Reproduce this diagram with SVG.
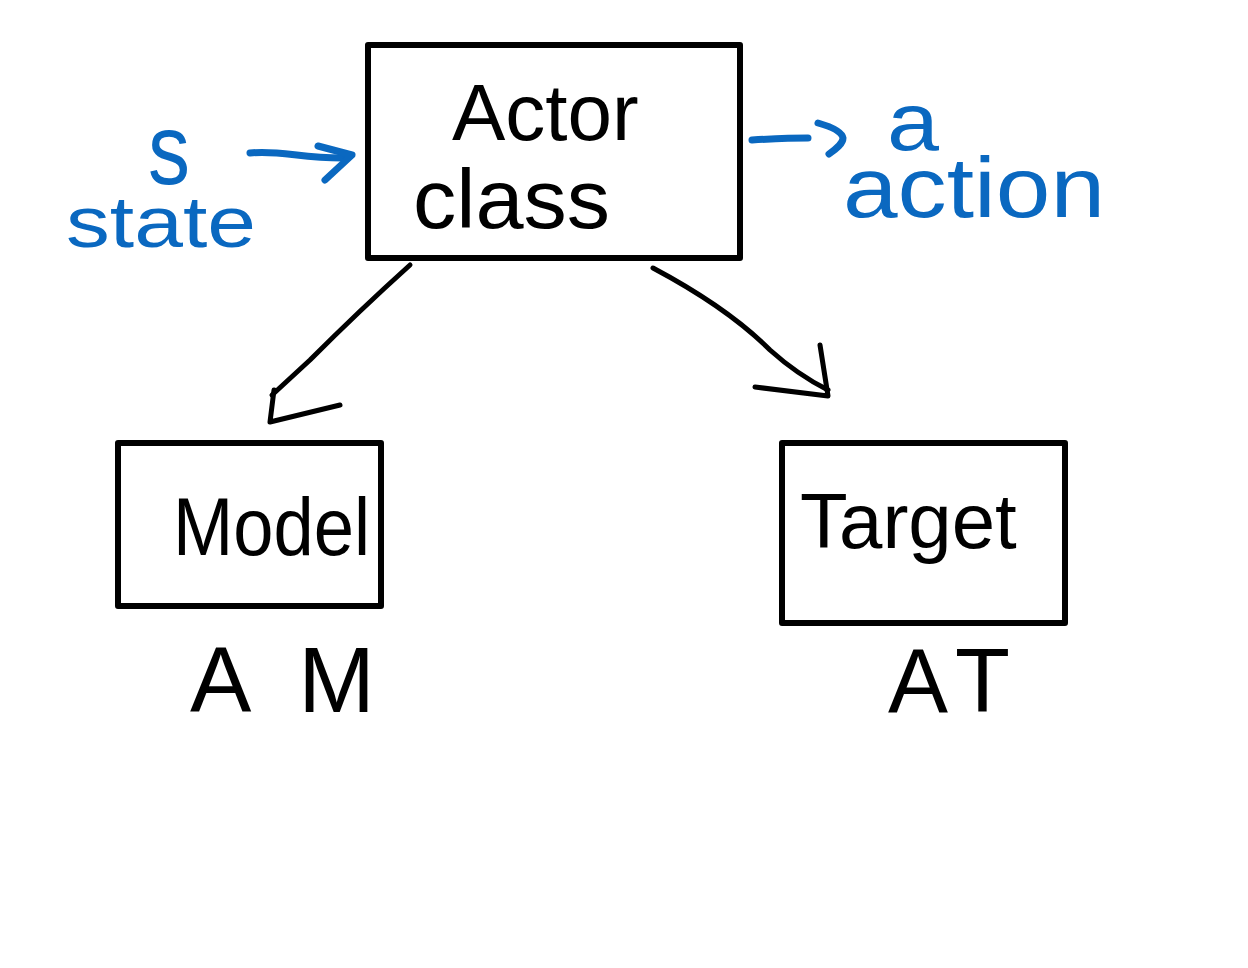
<svg xmlns="http://www.w3.org/2000/svg" width="1248" height="968" viewBox="0 0 1248 968">
<style>
.box{fill:none;stroke:#000;stroke-width:6;stroke-linejoin:round}
.ink{fill:none;stroke:#000;stroke-width:5;stroke-linecap:round;stroke-linejoin:round}
.blue{fill:none;stroke:#0A68C0;stroke-width:7;stroke-linecap:round;stroke-linejoin:round}
.t{font-family:"Liberation Sans","Open Sans",sans-serif;fill:#000}
.b{font-family:"Liberation Sans","Open Sans",sans-serif;fill:#0A68C0}
</style>
<rect width="1248" height="968" fill="#fff"/>
<g id="connectors">
<path class="ink" d="M410,265 C380,292 340,330 310,360 L272,395"/>
<path class="ink" d="M274,390 L270,422 L340,405"/>
<path class="ink" d="M653,268 C700,293 740,320 770,350 C790,368 808,380 828,390"/>
<path class="ink" d="M755,387 L828,396 L820,345"/>
<path class="blue" d="M250,153 C280,150 300,158 342,158"/>
<path class="blue" d="M318,146 L352,155 L325,180"/>
<path class="blue" d="M752,140 C770,139 790,138 808,138"/>
<path class="blue" d="M818,123 C832,127 842,132 843,138 C843,144 836,149 829,154"/>
</g>
<g id="actor">
<rect class="box" x="368" y="45" width="372" height="213"/>
<text class="t" x="452" y="140" font-size="80">Actor</text>
<text class="t" x="413" y="228" font-size="84" textLength="197" lengthAdjust="spacingAndGlyphs">class</text>
</g>
<g id="model">
<rect class="box" x="118" y="443" width="263" height="163"/>
<text class="t" x="173" y="555" font-size="82" textLength="197" lengthAdjust="spacingAndGlyphs">Model</text>
<text class="t" x="190" y="712" font-size="92" textLength="185" lengthAdjust="spacing">AM</text>
</g>
<g id="target">
<rect class="box" x="782" y="443" width="283" height="180"/>
<text class="t" x="800" y="548" font-size="78">Target</text>
<text class="t" x="888" y="712" font-size="90" textLength="122" lengthAdjust="spacing">AT</text>
</g>
<g id="state-label">
<text class="b" x="148" y="184" font-size="100" textLength="42" lengthAdjust="spacingAndGlyphs">s</text>
<text class="b" x="66" y="247" font-size="72" textLength="190" lengthAdjust="spacingAndGlyphs">state</text>
</g>
<g id="action-label">
<text class="b" x="887" y="150" font-size="82" textLength="52" lengthAdjust="spacingAndGlyphs">a</text>
<text class="b" x="843" y="217" font-size="86" textLength="262" lengthAdjust="spacingAndGlyphs">action</text>
</g>
</svg>
